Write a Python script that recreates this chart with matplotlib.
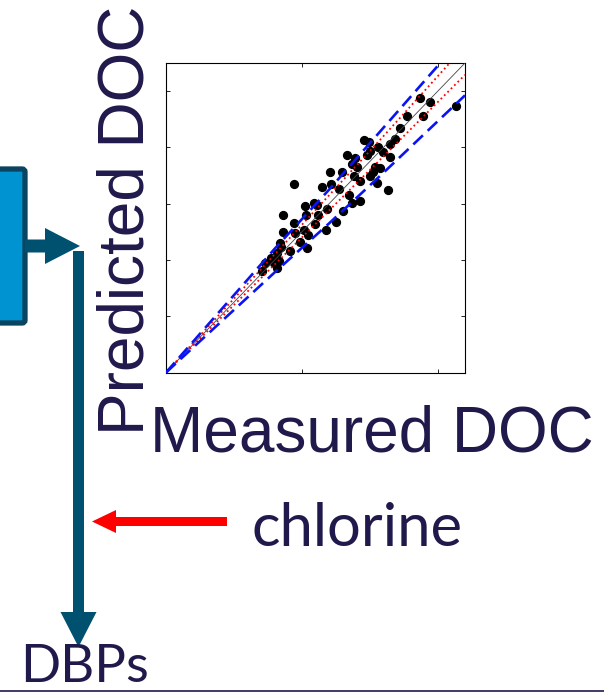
import matplotlib.pyplot as plt
import matplotlib.patches as mpatches

# 数据
measured_doc = [10.67, 9.71, 9.35, 9.44, 8.86, 8.61, 8.43, 8.24, 8.24, 8.00,
                7.81, 7.47, 7.30, 7.51, 7.39, 6.96, 6.65, 6.83, 7.02, 7.69,
                7.88, 7.60, 7.51, 7.14, 7.75, 8.15, 6.90, 6.47, 6.04, 6.38,
                6.06, 5.73, 4.72, 6.75, 7.12, 6.83, 6.50, 6.26, 5.92, 5.61,
                5.43, 5.55, 5.12, 5.16, 4.32, 4.72, 4.75, 5.08, 5.24, 5.49,
                5.88, 4.30, 4.94, 5.18, 4.18, 4.24, 4.57, 4.08, 3.86, 3.96,
                4.14, 3.65, 3.53, 4.08]
predicted_doc = [9.46, 9.60, 9.74, 9.13, 9.13, 8.69, 8.29, 8.13, 7.65, 7.82,
                 8.03, 8.20, 8.25, 7.88, 7.74, 7.61, 7.74, 7.42, 7.32, 7.30,
                 7.26, 7.11, 6.99, 6.82, 6.73, 6.47, 6.99, 7.14, 7.11, 6.51,
                 6.70, 6.61, 6.70, 6.31, 6.10, 6.02, 5.75, 5.36, 5.80, 5.60,
                 6.04, 5.96, 5.90, 5.60, 5.58, 5.30, 4.95, 5.07, 4.89, 5.28,
                 5.07, 5.01, 4.65, 4.41, 4.59, 4.47, 4.33, 4.24, 4.06, 3.90,
                 3.98, 3.88, 3.62, 3.70]

band_x = [0, 2, 4, 6, 8, 11]
pred_upper = [0, 2.20, 4.40, 6.50, 8.70, 12.0]
pred_lower = [0, 1.78, 3.56, 5.30, 7.10, 9.85]
conf_upper = [0, 2.10, 4.20, 6.30, 8.40, 11.6]
conf_lower = [0, 1.92, 3.84, 5.76, 7.68, 10.58]
one_to_one = [0, 11]

x_ticks = [0, 5, 10]
y_ticks = [0, 2, 4, 6, 8, 10]

text_color = '#1F1A4B'
flow_color = '#00506F'

W, H = 604, 692
fig = plt.figure(figsize=(W / 100, H / 100), dpi=100)

# 整张图的像素坐标层，用来画框、箭头和文字
ov = fig.add_axes([0, 0, 1, 1])
ov.set_xlim(0, W)
ov.set_ylim(H, 0)
ov.axis('off')

# 左边的蓝色方框（只露出右半边）
box = mpatches.FancyBboxPatch((-60, 169), 85, 154, boxstyle="round,pad=0,rounding_size=3",
                              facecolor='#0093D1', edgecolor='#0B4460', lw=3.8)
ov.add_patch(box)

# 箭头
ov.add_patch(mpatches.FancyArrow(25, 246, 55, 0, width=13, head_width=36, head_length=35,
                                 length_includes_head=True, color=flow_color, lw=0))
ov.add_patch(mpatches.FancyArrow(78.5, 251, 0, 396, width=11, head_width=36, head_length=35,
                                 length_includes_head=True, color=flow_color, lw=0))
ov.add_patch(mpatches.FancyArrow(227, 521.5, -135, 0, width=9, head_width=23, head_length=24,
                                 length_includes_head=True, color='#FF0000', lw=0))

# 底部细线
ov.plot([0, W], [690.5, 690.5], color=text_color, lw=1.2)

# 文字
ov.text(150, 451.5, 'Measured DOC', family='Liberation Sans', fontsize=46,
        color=text_color, ha='left', va='baseline')
ov.text(143, 435, 'Predicted DOC', family='Liberation Sans', fontsize=46,
        color=text_color, ha='left', va='baseline', rotation=90, rotation_mode='anchor')
ov.text(252, 545.5, 'chlorine', family='Lato', fontsize=43,
        color=text_color, ha='left', va='baseline')
ov.text(20, 691, 'DBPs', family='Lato', fontsize=38,
        color=text_color, ha='left', va='bottom')

# 散点图
ax = fig.add_axes([166 / W, (H - 372.5) / H, 299 / W, 309.5 / H])
ax.scatter(measured_doc, predicted_doc, s=32, color='black', zorder=2)
ax.plot(one_to_one, one_to_one, color='#444444', lw=0.6, zorder=3)
ax.plot(band_x, conf_upper, color='red', ls=':', lw=1.3, zorder=3)
ax.plot(band_x, conf_lower, color='red', ls=':', lw=1.3, zorder=3)
ax.plot(band_x, pred_upper, color='#0A14F0', ls=(0, (5, 2.5)), lw=1.9, zorder=3)
ax.plot(band_x, pred_lower, color='#0A14F0', ls=(0, (5, 2.5)), lw=1.9, zorder=3)
ax.set_xlim(0, 11)
ax.set_ylim(0, 11)
ax.set_xticks(x_ticks)
ax.set_yticks(y_ticks)
ax.tick_params(direction='in', length=3, width=0.6, top=True, right=True,
               labelbottom=False, labelleft=False)
for s in ax.spines.values():
    s.set_linewidth(0.8)

plt.savefig('out.png', dpi=100)
plt.close()
